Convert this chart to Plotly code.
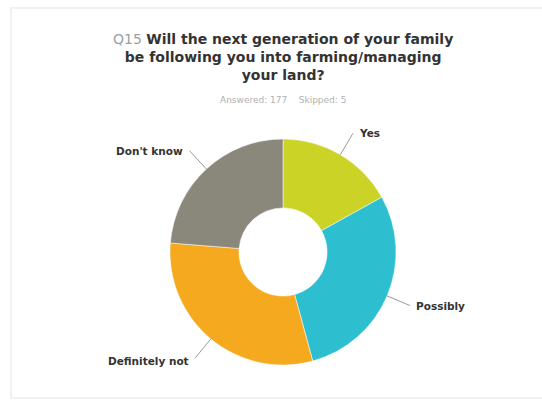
import math
import plotly.graph_objects as go

categories = ["Yes", "Possibly", "Definitely not", "Don't know"]
counts = [30, 51, 54, 42]
colors = ["#cbd327", "#2dbfcf", "#f5a91f", "#8a887b"]
title_q = "Q15"
title_text = "Will the next generation of your family<br>be following you into farming/managing<br>your land?"
subtitle = "Answered: 177    Skipped: 5"

W, H = 542, 401
CX, CY, R = 283, 252, 113

fig = go.Figure(go.Pie(
    labels=categories, values=counts, hole=0.39, sort=False, direction="clockwise",
    rotation=0, textinfo="none", hoverinfo="label+percent",
    marker=dict(colors=colors, line=dict(color="white", width=0.5)),
    domain=dict(x=[(CX - R) / W, (CX + R) / W], y=[1 - (CY + R) / H, 1 - (CY - R) / H]),
    showlegend=False,
))

def px2paper(x, y):
    return x / W, 1 - y / H

total = sum(counts)
cum = 0
shapes = []
annotations = []
for cat, v in zip(categories, counts):
    mid = (cum + v / 2) / total * 2 * math.pi
    cum += v
    sx, sy = CX + R * 1.0 * math.sin(mid), CY - R * 1.0 * math.cos(mid)
    ex, ey = CX + R * 1.22 * math.sin(mid), CY - R * 1.22 * math.cos(mid)
    x0, y0 = px2paper(sx, sy)
    x1, y1 = px2paper(ex, ey)
    shapes.append(dict(type="line", xref="paper", yref="paper", x0=x0, y0=y0, x1=x1, y1=y1,
                       line=dict(color="#9a9a9a", width=1)))
    right = math.sin(mid) >= 0
    annotations.append(dict(xref="paper", yref="paper", x=x1, y=y1, text=f"<b>{cat}</b>",
                            showarrow=False, xanchor="left" if right else "right", yanchor="middle",
                            xshift=4 if right else -4, yshift=0 if math.cos(mid) > -0.5 else -3,
                            font=dict(family="DejaVu Sans", size=10.5, color="#333333")))

annotations.append(dict(xref="paper", yref="paper", x=CX / W, y=1 - 100 / H, text=subtitle,
                        showarrow=False, xanchor="center", yanchor="middle",
                        font=dict(family="DejaVu Sans", size=9, color="#b0b0b0")))
annotations.append(dict(xref="paper", yref="paper", x=CX / W, y=1 - 57 / H,
                        text=f"<span style='color:#9aa0a6'>{title_q}</span> <b>{title_text}</b>",
                        showarrow=False, xanchor="center", yanchor="middle", align="center",
                        font=dict(family="DejaVu Sans", size=14, color="#333333")))

fx0, fy0 = px2paper(11, 398)
fx1, fy1 = px2paper(545, 8)
shapes.append(dict(type="rect", xref="paper", yref="paper", x0=fx0, y0=fy0, x1=fx1, y1=fy1,
                   line=dict(color="#ededed", width=1.5), layer="below"))

fig.update_layout(width=W, height=H, margin=dict(l=0, r=0, t=0, b=0),
                  paper_bgcolor="white", plot_bgcolor="white",
                  shapes=shapes, annotations=annotations)
fig.write_html("out.html", config={"displayModeBar": False},
               post_script="document.body.style.margin='0';document.body.style.overflow='hidden';")
